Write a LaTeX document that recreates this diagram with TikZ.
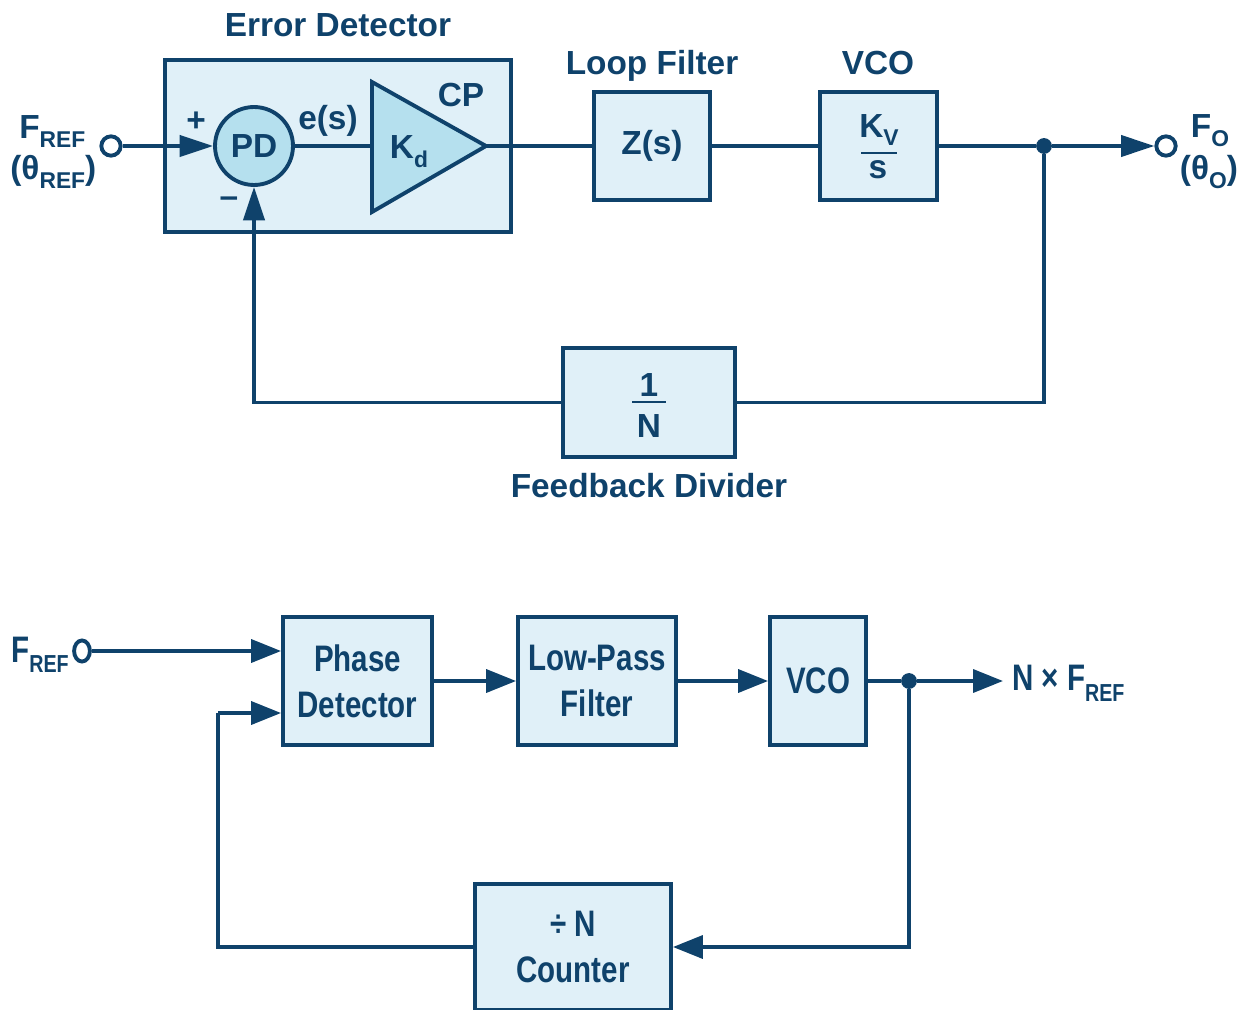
\documentclass[tikz,border=0pt]{standalone}
\usepackage{fontspec}
\setmainfont{Liberation Sans}
\newfontfamily\condf{Liberation Sans Bold}[FakeStretch=0.8]
\usetikzlibrary{arrows.meta,shapes.geometric}
\definecolor{navy}{HTML}{0F426B}
\definecolor{boxfill}{HTML}{E0F0F8}
\definecolor{deepfill}{HTML}{B5E0EE}
\newcommand\topfont{\fontsize{19}{22}\selectfont\bfseries}
\newcommand\botfont{\fontsize{21}{26}\selectfont\condf}
\newcommand\tsub[1]{\raisebox{-0.5ex}{\fontsize{13}{13}\selectfont #1}}
\newcommand\bsub[1]{\raisebox{-0.55ex}{\fontsize{14}{14}\selectfont #1}}
\tikzset{
  wire/.style={draw=navy, line width=2.2pt},
  arrT/.style={wire, -{Triangle[length=19pt,width=12pt]}},
  arrB/.style={wire, -{Triangle[length=17pt,width=13pt]}},
  blk/.style={draw=navy, fill=boxfill, line width=2.2pt, inner sep=0pt, text=navy, font=\topfont},
  bblk/.style={draw=navy, fill=boxfill, line width=2.2pt, inner sep=0pt, text=navy, font=\botfont, align=center},
  lbl/.style={text=navy, font=\topfont, inner sep=0pt},
  term/.style={circle, draw=navy, fill=white, line width=2.2pt, minimum size=11pt, inner sep=0pt},
  dotn/.style={circle, fill=navy, inner sep=0pt, minimum size=9pt},
}
\begin{document}
\begin{tikzpicture}[x=0.02cm,y=-0.02cm]
\useasboundingbox (0,0) rectangle (1250,1010);

% ---------- top diagram ----------
\node[blk, minimum width=6.92cm, minimum height=3.44cm] (ed) at (338,146) {};
\node[lbl, anchor=base] (edl) at (338,37) {Error Detector};

\node[term] (tin) at (111,146) {};
\node[lbl, anchor=base west] (finl) at (19,139) {F\tsub{REF}};
\node[lbl, anchor=base west] (finl2) at (10,180) {(θ\tsub{REF})};

\node[circle, draw=navy, fill=deepfill, line width=2.2pt, minimum size=1.56cm,
      inner sep=0pt, text=navy, font=\topfont] (pd) at (254,146) {PD};
\node[lbl] (plus) at (196,122) {+};
\node[lbl] (minus) at (229,202) {–};
\node[lbl] (es) at (328,121) {e(s)};

\coordinate (tl) at (372,146);
\coordinate (apex) at (486,146);
\path[draw=navy, fill=deepfill, line width=2.2pt, line join=miter]
  (372,82) -- (apex) -- (372,212) -- cycle;
\node[lbl] (kd) at (409,152) {K\tsub{d}};
\node[lbl] (cp) at (461,95) {CP};

\node[blk, minimum width=2.32cm, minimum height=2.16cm] (z) at (652,146) {Z(s)};
\node[lbl, anchor=base] (lfl) at (652,75) {Loop Filter};

\node[blk, minimum width=2.34cm, minimum height=2.16cm] (vco) at (878.5,146) {};
\node[lbl, anchor=base] (vcol) at (878,75) {VCO};
\node[lbl] (kv) at (879,130) {K\tsub{V}};
\node[lbl] (kvs) at (878,170) {s};
\draw[navy, line width=1.6pt] (861,153) -- (897,153);

\node[dotn] (dot) at (1044,146) {};
\node[term] (tout) at (1166,146) {};
\node[lbl] (fo) at (1210,131) {F\tsub{O}};
\node[lbl] (fo2) at (1209,172) {(θ\tsub{O})};

\node[blk, minimum width=3.44cm, minimum height=2.18cm] (div) at (649,402.5) {};
\node[lbl] (one) at (649,385) {1};
\node[lbl] (nn) at (649,426) {N};
\draw[navy, line width=1.6pt] (632,402) -- (666,402);
\node[lbl, anchor=base] (fdl) at (649,497) {Feedback Divider};

\draw[arrT] (tin) -- (pd);
\draw[wire] (pd) -- (tl);
\draw[wire] (apex) -- (z);
\draw[wire] (z) -- (vco);
\draw[wire] (vco) -- (dot);
\draw[arrT] (dot) -- (tout);
\draw[wire] (dot) |- (div);
\draw[arrT] (div) -| (pd);

% ---------- bottom diagram ----------
\node[ellipse, draw=navy, fill=white, line width=2.2pt, minimum width=9pt,
      minimum height=12pt, inner sep=0pt] (tin2) at (82,651) {};
\node[text=navy, font=\botfont, inner sep=0pt, anchor=base west] (fref2) at (11,662) {F\bsub{REF}};

\node[bblk, minimum width=2.98cm, minimum height=2.56cm] (pd2) at (357.5,681) {Phase\\Detector};
\node[bblk, minimum width=3.16cm, minimum height=2.56cm] (lpf) at (597,681) {Low-Pass\\Filter};
\node[bblk, minimum width=1.92cm, minimum height=2.56cm] (vco2) at (818,681) {VCO};
\node[dotn] (dot2) at (909,681) {};
\node[text=navy, font=\botfont, inner sep=5pt, anchor=west] (nx) at (1003,683) {N × F\bsub{REF}};
\node[bblk, minimum width=3.92cm, minimum height=2.52cm] (cnt) at (573,947) {÷ N\\Counter};
\coordinate (fbc) at (218,713);

\draw[arrB] (tin2) -- (tin2 -| pd2.west);
\draw[arrB] (pd2) -- (lpf);
\draw[arrB] (lpf) -- (vco2);
\draw[wire] (vco2) -- (dot2);
\draw[arrB] (dot2) -- (nx.west |- dot2);
\draw[arrB] (dot2) |- (cnt);
\draw[wire] (cnt) -| (fbc);
\draw[arrB] (fbc) -- (fbc -| pd2.west);
\end{tikzpicture}
\end{document}
